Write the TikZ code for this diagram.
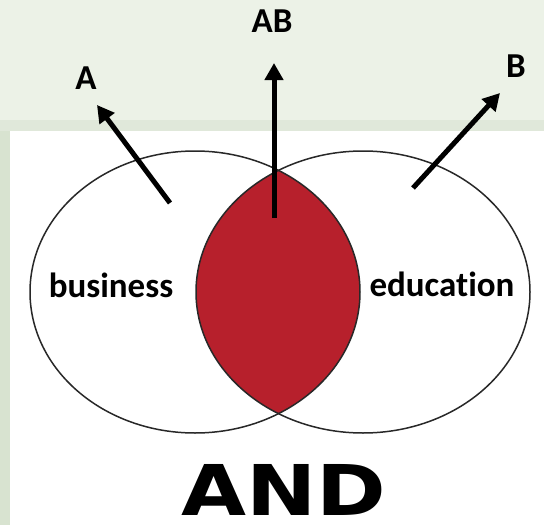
\documentclass[tikz,border=0pt]{standalone}
\usepackage{fontspec}
\usetikzlibrary{arrows.meta}
\newfontfamily\calib{Carlito}[Ligatures=NoCommon]
\newfontfamily\andfont{DejaVu Sans}
\definecolor{bggreen}{RGB}{236,242,231}
\definecolor{bandgreen}{RGB}{224,232,218}
\definecolor{edgegreen}{RGB}{216,227,208}
\definecolor{vennred}{RGB}{183,32,44}
\definecolor{ringgray}{RGB}{40,40,40}
\tikzset{
  lbl/.style={font=\calib\bfseries\fontsize{35}{40}\selectfont, text=black, inner sep=0pt},
  ring/.style={draw=ringgray, line width=1.5pt},
  bigarrow/.style={line width=5pt, -{Triangle[length=17pt,width=18pt]}, draw=black}
}
\begin{document}
\begin{tikzpicture}[x=1pt,y=-1pt]
\useasboundingbox (0,0) rectangle (544,525);
\fill[bggreen] (0,0) rectangle (544,525);
\fill[bandgreen] (0,120) rectangle (544,131);
\fill[edgegreen] (0,131) rectangle (10,525);
\fill[white] (10,131) rectangle (544,525);
% intersection
\begin{scope}
  \clip (195,292) ellipse [x radius=165, y radius=141];
  \fill[vennred] (363,292) ellipse [x radius=167, y radius=141];
\end{scope}
\draw[ring] (195,292) ellipse [x radius=165, y radius=141];
\draw[ring] (363,292) ellipse [x radius=167, y radius=141];
% labels
\node[lbl, anchor=base] (business) at (111,297) {business};
\node[lbl, anchor=base] (education) at (442,296) {education};
\node[lbl, anchor=base] (A) at (86,89) {A};
\node[lbl, anchor=base] (AB) at (272,32) {AB};
\node[lbl, anchor=base] (B) at (516,77) {B};
\node[font=\andfont\bfseries\fontsize{70}{74}\selectfont, inner sep=0pt, anchor=base, xscale=1.2] (AND) at (284,515) {AND};
% arrows
\coordinate (tailA) at (170,203);
\coordinate (tipA) at (97,105);
\coordinate (tailAB) at (274,218);
\coordinate (tipAB) at (274,63);
\coordinate (tailB) at (413,188);
\coordinate (tipB) at (500,93);
\draw[bigarrow] (tailA) -- (tipA);
\draw[bigarrow] (tailAB) -- (tipAB);
\draw[bigarrow] (tailB) -- (tipB);
\end{tikzpicture}
\end{document}
